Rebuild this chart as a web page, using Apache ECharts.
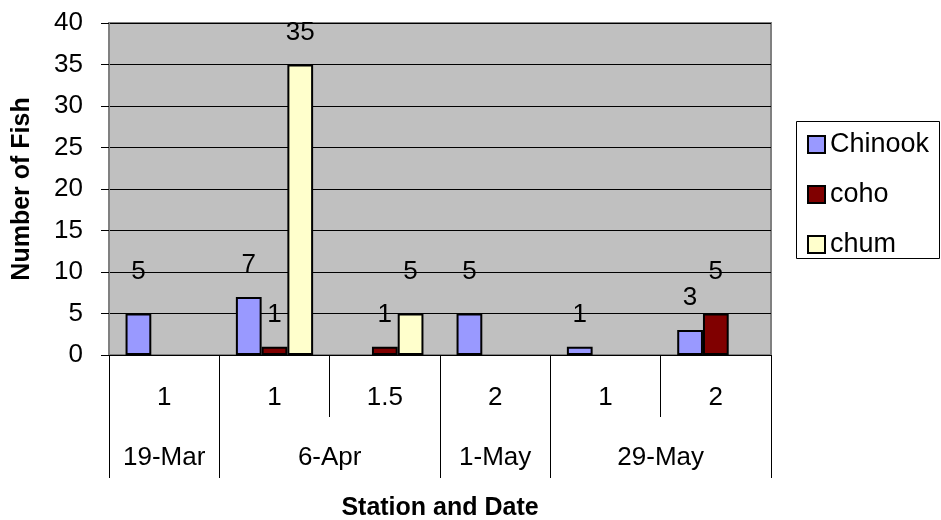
<!DOCTYPE html>
<html>
<head>
<meta charset="utf-8">
<style>
  html, body { margin: 0; padding: 0; background: #ffffff; }
  #chart { width: 941px; height: 520px; }
</style>
<script src="https://cdn.jsdelivr.net/npm/echarts@6/dist/echarts.min.js"></script>
</head>
<body>
<div id="chart"></div>
<script>
// Fish counts by sampling station, grouped by survey date
const stations = ['1', '1', '1.5', '2', '1', '2'];
const dates = ['19-Mar', '6-Apr', '1-May', '29-May'];
const dateSpans = [1, 2, 1, 2];          // number of stations under each date

const chinook = [5, 7, 0, 5, 1, 3];
const coho    = [0, 1, 1, 0, 0, 5];
const chum    = [0, 35, 5, 0, 0, 0];

const yTicks = [0, 5, 10, 15, 20, 25, 30, 35, 40];

const FONT = '"Liberation Sans", Arial, sans-serif';
const TXT = 26;

// boundaries and centres of the date groups along the category span
const dateBounds = [0];
const dateCentres = [];
dateSpans.forEach(function (s) {
  const start = dateBounds[dateBounds.length - 1];
  dateCentres.push(start + s / 2);
  dateBounds.push(start + s);
});

function makeSeries(name, values, color) {
  return {
    name: name,
    type: 'bar',
    xAxisIndex: 0,
    barGap: '0%',
    barCategoryGap: '30%',
    itemStyle: { color: color, borderColor: '#000000', borderWidth: 2 },
    data: values.map(function (v) {
      return {
        value: v,
        // empty counts leave no outline on the baseline
        itemStyle: v > 0 ? {} : { borderWidth: 0, opacity: 0 },
        label: {
          show: v > 0,
          position: 'top',
          distance: v === 5 ? 29 : 19,
          color: '#000000',
          fontFamily: FONT,
          fontSize: TXT
        }
      };
    })
  };
}

const chart = echarts.init(document.getElementById('chart'), null, { renderer: 'canvas' });

chart.setOption({
  animation: false,
  backgroundColor: '#ffffff',
  grid: {
    left: 109, right: 170, top: 23, bottom: 165,
    outerBoundsMode: 'none',
    containLabel: false,
    show: true,
    backgroundColor: '#C0C0C0',
    borderColor: '#808080',
    borderWidth: 2
  },
  graphic: [{
    type: 'rect',
    left: 796, top: 121,
    shape: { width: 143, height: 137 },
    style: { fill: '#ffffff', stroke: '#000000', lineWidth: 1 },
    z: 0
  }],
  legend: {
    orient: 'vertical',
    left: 807, top: 131,
    padding: 0,
    itemWidth: 17, itemHeight: 17,
    itemGap: 23,
    itemTextGap: 10,
    icon: 'rect',
    textStyle: { color: '#000000', fontFamily: FONT, fontSize: 27, lineHeight: 24 },
    z: 5,
    data: ['Chinook', 'coho', 'chum']
  },
  xAxis: [{
    type: 'category',
    data: stations,
    position: 'bottom',
    axisLine: { show: true, lineStyle: { color: '#000000', width: 1 } },
    axisTick: { show: true, length: 62, interval: 0, lineStyle: { color: '#000000', width: 1 } },
    axisLabel: { interval: 0, margin: 30, color: '#000000', fontFamily: FONT, fontSize: TXT },
    splitLine: { show: false }
  }, {
    type: 'value',
    min: 0, max: stations.length,
    position: 'bottom',
    axisLine: { show: false },
    axisTick: { show: true, length: 123, customValues: dateBounds, lineStyle: { color: '#000000', width: 1 } },
    axisLabel: {
      customValues: dateCentres,
      margin: 90,
      color: '#000000', fontFamily: FONT, fontSize: TXT,
      formatter: function (v) {
        const i = dateCentres.indexOf(v);
        return i >= 0 ? dates[i] : '';
      }
    },
    splitLine: { show: false },
    name: 'Station and Date',
    nameLocation: 'middle',
    nameGap: 141,
    nameTextStyle: { color: '#000000', fontFamily: FONT, fontSize: 25, fontWeight: 'bold' }
  }],
  yAxis: {
    type: 'value',
    min: yTicks[0], max: yTicks[yTicks.length - 1], interval: yTicks[1] - yTicks[0],
    axisLine: { show: true, lineStyle: { color: '#808080', width: 1 } },
    axisTick: { show: true, length: 8, lineStyle: { color: '#000000', width: 1 } },
    axisLabel: { margin: 26, color: '#000000', fontFamily: FONT, fontSize: TXT },
    splitLine: { show: true, lineStyle: { color: '#000000', width: 1 } },
    name: 'Number of Fish',
    nameLocation: 'middle',
    nameRotate: 90,
    nameGap: 74,
    nameTextStyle: { color: '#000000', fontFamily: FONT, fontSize: 25, fontWeight: 'bold' }
  },
  series: [
    makeSeries('Chinook', chinook, '#9999FF'),
    makeSeries('coho', coho, '#800000'),
    makeSeries('chum', chum, '#FFFFCC')
  ]
});
</script>
</body>
</html>
